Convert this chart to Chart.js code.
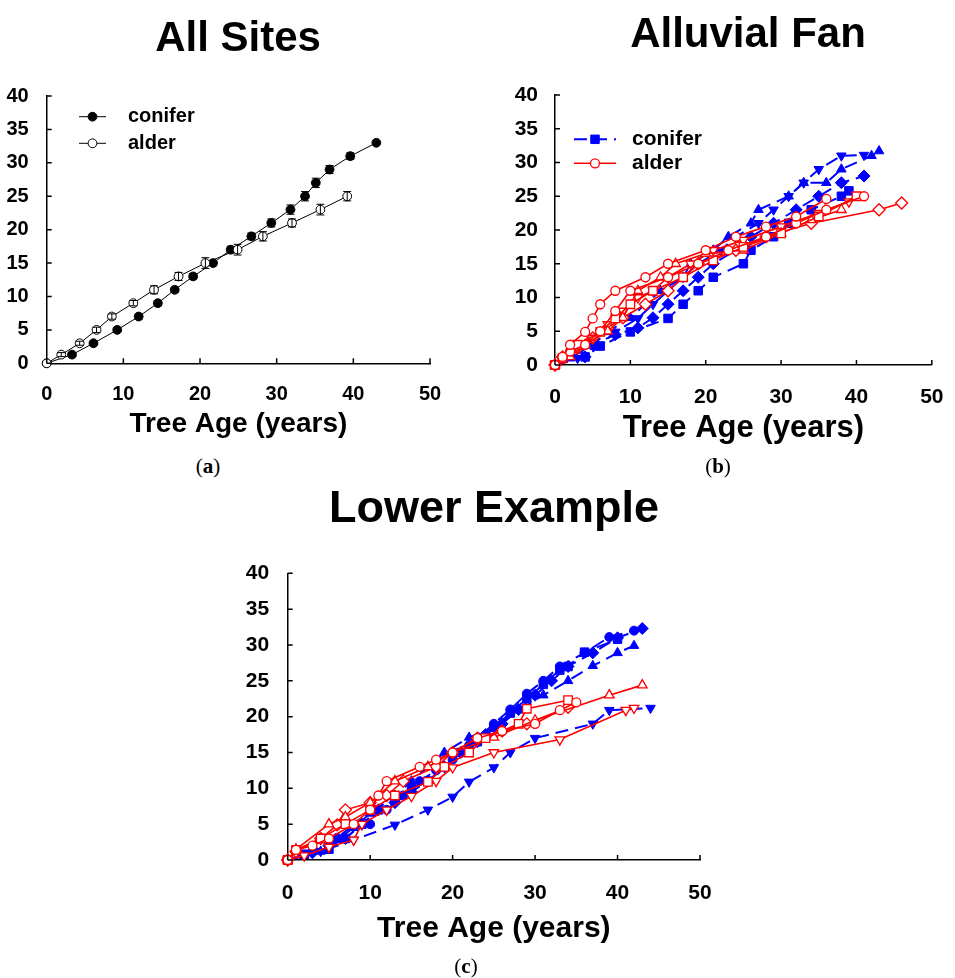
<!DOCTYPE html>
<html>
<head>
<meta charset="utf-8">
<script src="https://cdn.jsdelivr.net/npm/chart.js@4.4.1/dist/chart.umd.min.js"></script>
<style>
  body { margin: 0; background: #fff; width: 955px; height: 978px; position: relative; overflow: hidden;
         font-family: "Liberation Sans", Arial, sans-serif; }
  canvas { position: absolute; }
  .title { position: absolute; font-weight: bold; color: #000; white-space: nowrap; transform: translate(-50%, -50%); z-index: 2; }
  .tag { position: absolute; font-family: "Liberation Serif", "Times New Roman", serif; font-size: 21px;
         transform: translate(-50%, -50%); z-index: 2; }
</style>
</head>
<body>
<div class="title" style="left:238px; top:37px; font-size:42px;">All Sites</div>
<div class="title" style="left:748px; top:33px; font-size:42px;">Alluvial Fan</div>
<div class="title" style="left:494px; top:507px; font-size:45px;">Lower Example</div>
<div class="tag" style="left:208px; top:466px;">(<b>a</b>)</div>
<div class="tag" style="left:718px; top:466px;">(<b>b</b>)</div>
<div class="tag" style="left:466px; top:966px;">(<b>c</b>)</div>

<canvas id="chart-a" width="460" height="450" style="left:0; top:0;"></canvas>
<canvas id="chart-b" width="460" height="455" style="left:495px; top:0;"></canvas>
<canvas id="chart-c" width="500" height="480" style="left:230px; top:480px;"></canvas>

<script>
// ---- tick labels (shared) ----
const xTicks = [0, 10, 20, 30, 40, 50];
const yTicks = [0, 5, 10, 15, 20, 25, 30, 35, 40];

// ---- (a) All Sites: mean height with error bars ----
const allConiferAge = [0, 3.3, 6.1, 9.2, 12, 14.5, 16.7, 19.1, 21.7, 24, 26.7, 29.3, 31.8, 33.7, 35.1, 36.9, 39.6, 43];
const allConiferHt  = [0, 1.3, 3, 5, 7, 9, 11, 13, 15, 17, 19, 21, 23, 25, 27, 29, 31, 33];
const allConiferErr = [0, 0.3, 0.3, 0.3, 0.4, 0.4, 0.4, 0.4, 0.4, 0.5, 0.5, 0.6, 0.7, 0.7, 0.7, 0.6, 0.5, 0];
const allAlderAge = [0, 1.9, 4.3, 6.5, 8.5, 11.3, 14, 17.2, 20.7, 24.9, 28.2, 32, 35.7, 39.2];
const allAlderHt  = [0, 1.3, 3, 5, 7, 9, 11, 13, 15, 17, 19, 21, 23, 25];
const allAlderErr = [0, 0.3, 0.3, 0.4, 0.4, 0.4, 0.6, 0.6, 0.8, 0.8, 0.7, 0.6, 0.8, 0.7];

// ---- (b) Alluvial Fan ----
const fanConSqAge = [0, 4, 6, 10, 15, 17, 19, 21, 25, 26, 29, 31, 34, 38, 39];
const fanConSqHt  = [0, 1.2, 2.8, 4.9, 6.9, 9, 11, 13, 15, 17, 19, 21, 23, 25, 25.8];
const fanConDiAge = [0, 4, 5, 8, 11, 13, 15, 17, 19, 21, 24, 26, 29, 32, 35, 38, 41];
const fanConDiHt  = [0, 1.2, 3, 4.5, 5.5, 7, 9, 11, 13, 15, 17, 19, 21, 23, 25, 27, 28];
const fanConUpAge = [0, 2, 5, 7, 10, 12, 14, 17, 18, 21, 23, 26, 27, 31, 33, 36, 38, 42, 43];
const fanConUpHt  = [0, 1, 3, 4.9, 7, 9, 11, 13, 15, 17, 19, 21, 23, 25, 27, 27, 29, 31, 31.7];
const fanConDnAge = [0, 3, 6, 8, 11, 13, 15, 17, 19, 22, 24, 27, 29, 31, 33, 35, 38, 41];
const fanConDnHt  = [0, 1, 3, 4.9, 6.9, 9, 11, 13, 15, 17, 19, 21, 23, 25, 27, 29, 31, 31.1];

const fanAldCi1Age = [0, 1, 2, 4, 5, 6, 8, 12, 15, 20, 24, 28, 32, 36];
const fanAldCi1Ht  = [0, 1.2, 3, 4.9, 6.9, 9, 11, 13, 15, 17, 19, 20.5, 22, 24.6];
const fanAldCi2Age = [0, 1, 2, 4, 6, 8, 10, 15, 19, 23, 28, 32, 36, 41];
const fanAldCi2Ht  = [0, 1, 2, 3, 5, 8, 11, 13, 15, 17, 19, 21, 23, 25];
const fanAldSqAge  = [0, 1, 3, 6, 8, 10, 13, 17, 21, 25, 30, 35, 40];
const fanAldSqHt   = [0, 1, 3, 4.9, 6.9, 9, 11, 13, 15.5, 17.5, 19.5, 22, 25];
const fanAldUpAge  = [0, 2, 4, 7, 9, 11, 14, 16, 20, 25, 30, 34, 38];
const fanAldUpHt   = [0, 1.2, 3, 5, 7, 11, 13, 15, 16.5, 17, 19.5, 21.5, 23];
const fanAldDnAge  = [0, 1, 3, 5, 7, 9, 11, 13, 15, 18, 21, 25, 30, 35, 39];
const fanAldDnHt   = [0, 1, 2.5, 4, 6, 8, 10, 11, 13, 15, 17, 18.5, 20.5, 22.5, 24.2];
const fanAldDiAge  = [0, 1, 3, 5, 7, 9, 12, 15, 19, 24, 28, 34, 43, 46];
const fanAldDiHt   = [0, 1.2, 2.5, 4, 5.5, 7, 9, 11, 15, 17, 19, 21, 23, 24];

// ---- (c) Lower Example ----
const lowConCiAge = [0, 3, 6, 8, 10, 11, 12, 14, 16, 18, 20, 22, 23, 25, 27, 29, 31, 33, 36, 39, 42];
const lowConCiHt  = [0, 1.2, 3.1, 4.9, 5, 7, 7, 9, 11, 12.5, 14, 16, 17, 19, 21, 23.2, 25, 27, 28.9, 31.1, 32];
const lowConDiAge = [0, 3, 5, 7, 9, 11, 13, 15, 17, 19, 21, 23, 24, 26, 28, 30, 32, 34, 37, 40, 43];
const lowConDiHt  = [0, 1, 2, 3, 5, 7, 8, 9.5, 11, 13, 15, 16.5, 17.5, 19, 21, 23, 25, 27, 28.9, 31, 32.3];
const lowConSqAge = [0, 2, 5, 7, 9, 11, 13, 15, 17, 19, 21, 23, 25, 27, 29, 31, 33, 34, 36, 40];
const lowConSqHt  = [0, 0.8, 1.5, 3, 5, 7, 8.5, 10, 11, 13, 15, 16.5, 18.5, 20.5, 22.5, 24.5, 26.5, 27, 29, 30.8];
const lowConUpAge = [0, 2, 4, 6, 8, 10, 13, 15, 17, 19, 22, 25, 28, 31, 34, 37, 40, 42];
const lowConUpHt  = [0, 0.6, 1.2, 2.8, 4.5, 6.5, 9, 11, 13, 15, 17.1, 18.5, 20.9, 23, 25, 27.1, 28.9, 29.9];
const lowConDnAge = [0, 4, 8, 13, 17, 20, 22, 25, 27, 30, 37, 39, 44];
const lowConDnHt  = [0, 1.2, 2.8, 4.9, 7, 8.8, 10.9, 12.9, 15, 17, 19, 20.9, 21.2];

const lowAldCiAge = [0, 1, 3, 5, 8, 10, 11, 12, 16, 18, 20, 23, 26, 30, 33, 35];
const lowAldCiHt  = [0, 1.4, 2, 3, 5, 7, 9, 11, 13, 14, 15, 17, 18, 19, 20.9, 22];
const lowAldSqAge = [0, 1, 4, 7, 10, 13, 17, 19, 22, 24, 28, 29, 34];
const lowAldSqHt  = [0, 1.4, 3, 5, 7, 9, 10.9, 13, 15, 17, 19, 21.1, 22.3];
const lowAldUpAge = [0, 1, 5, 7, 10, 13, 17, 20, 25, 30, 39, 43];
const lowAldUpHt  = [0, 1.5, 5, 6, 8, 11, 13, 15, 17.1, 19.5, 23, 24.4];
const lowAldDnAge = [0, 2, 5, 8, 9, 12, 15, 18, 20, 25, 33, 41, 42];
const lowAldDnHt  = [0, 0.6, 1.8, 2.8, 5, 7, 8.9, 11, 12.9, 15, 16.8, 20.9, 21.2];
const lowAldDiAge = [0, 1, 4, 6, 7, 10, 12, 14, 18, 20, 23, 26, 29, 34];
const lowAldDiHt  = [0, 1.2, 3, 4.9, 7, 8, 9, 11, 13, 15, 17, 18, 19, 21.3];

const FONT = "'Liberation Sans', Arial, sans-serif";
const BLUE = '#0000ff';
const RED = '#ff0000';

function pts(xs, ys) {
    return xs.map((x, i) => ({ x: x, y: ys[i] }));
}

// marker size per shape so the shapes look equally big
const markerRadius = { circle: 4.5, rect: 6, triangle: 5.5, rectRot: 6 };

function conifer(xs, ys, style, rotation) {
    return {
        data: pts(xs, ys),
        borderColor: BLUE, borderWidth: 2, borderDash: [13, 7],
        pointStyle: style, pointRotation: rotation || 0, pointRadius: markerRadius[style],
        pointBackgroundColor: BLUE, pointBorderColor: BLUE, pointBorderWidth: 1,
        tension: 0, clip: false
    };
}

function alder(xs, ys, style, rotation) {
    return {
        data: pts(xs, ys),
        borderColor: RED, borderWidth: 1.6,
        pointStyle: style, pointRotation: rotation || 0, pointRadius: markerRadius[style],
        pointBackgroundColor: '#fff', pointBorderColor: RED, pointBorderWidth: 1.3,
        tension: 0, clip: false
    };
}

// Ticks point into the plot, like the original figure
const inwardTicks = {
    id: 'inwardTicks',
    afterDraw(chart) {
        const { ctx, chartArea, scales } = chart;
        ctx.save();
        ctx.strokeStyle = '#000';
        ctx.lineWidth = 1.5;
        ctx.beginPath();
        scales.x.ticks.forEach(t => {
            const px = scales.x.getPixelForValue(t.value);
            ctx.moveTo(px, chartArea.bottom);
            ctx.lineTo(px, chartArea.bottom - 5);
        });
        scales.y.ticks.forEach(t => {
            const py = scales.y.getPixelForValue(t.value);
            ctx.moveTo(chartArea.left, py);
            ctx.lineTo(chartArea.left + 5, py);
        });
        ctx.stroke();
        ctx.restore();
    }
};

// Vertical error bars for datasets that carry an "errors" array
const errorBars = {
    id: 'errorBars',
    afterDatasetsDraw(chart) {
        const { ctx, scales } = chart;
        ctx.save();
        ctx.strokeStyle = '#000';
        ctx.lineWidth = 1;
        chart.data.datasets.forEach(ds => {
            if (!ds.errors) return;
            ds.data.forEach((p, i) => {
                const e = ds.errors[i];
                if (!e) return;
                const x = scales.x.getPixelForValue(p.x);
                const y0 = scales.y.getPixelForValue(p.y - e);
                const y1 = scales.y.getPixelForValue(p.y + e);
                ctx.beginPath();
                ctx.moveTo(x, y0); ctx.lineTo(x, y1);
                ctx.moveTo(x - 4, y0); ctx.lineTo(x + 4, y0);
                ctx.moveTo(x - 4, y1); ctx.lineTo(x + 4, y1);
                ctx.stroke();
            });
        });
        ctx.restore();
    }
};

// Legend drawn as line + marker + label, taken from the dataset styles
const seriesKey = {
    id: 'seriesKey',
    afterDraw(chart, args, opts) {
        if (!opts.items) return;
        const ctx = chart.ctx;
        ctx.save();
        opts.items.forEach(item => {
            const ds = chart.data.datasets[item.dataset];
            ctx.strokeStyle = ds.borderColor;
            ctx.lineWidth = ds.borderWidth;
            ctx.setLineDash(ds.borderDash || []);
            ctx.beginPath();
            ctx.moveTo(opts.x0, item.y);
            ctx.lineTo(opts.x1, item.y);
            ctx.stroke();
            ctx.setLineDash([]);
            ctx.fillStyle = ds.pointBackgroundColor;
            ctx.strokeStyle = ds.pointBorderColor;
            ctx.lineWidth = ds.pointBorderWidth;
            Chart.helpers.drawPoint(ctx, {
                pointStyle: ds.pointStyle, rotation: 0,
                radius: ds.pointRadius, borderWidth: ds.pointBorderWidth
            }, (opts.x0 + opts.x1) / 2, item.y);
            ctx.fillStyle = '#000';
            ctx.font = 'bold ' + opts.fontSize + 'px ' + FONT;
            ctx.textBaseline = 'middle';
            ctx.textAlign = 'left';
            ctx.fillText(item.label, opts.textX, item.y);
        });
        ctx.restore();
    }
};

// cfg: fixed layout numbers for one panel
function makeChart(id, datasets, cfg, legendOpts) {
    const ctx = document.getElementById(id).getContext('2d');
    return new Chart(ctx, {
        type: 'line',
        data: { datasets: datasets },
        plugins: [inwardTicks, errorBars, seriesKey],
        options: {
            responsive: false,
            animation: false,
            layout: { padding: { top: cfg.top, right: cfg.right, left: 0, bottom: 0 } },
            plugins: {
                legend: { display: false },
                tooltip: { enabled: false },
                seriesKey: legendOpts || {}
            },
            scales: {
                x: {
                    type: 'linear', min: 0, max: 50,
                    afterBuildTicks: s => { s.ticks = xTicks.map(v => ({ value: v })); },
                    afterFit: s => { s.height = cfg.xHeight; },
                    grid: { display: false },
                    border: { display: true, color: '#000', width: 1.5 },
                    ticks: { color: '#000', padding: cfg.tickPad, font: { family: FONT, size: cfg.tickSize, weight: 'bold' } },
                    title: {
                        display: true, text: 'Tree Age (years)', color: '#000',
                        padding: { top: 0, bottom: cfg.titlePad },
                        font: { family: FONT, size: cfg.titleSize, weight: 'bold' }
                    }
                },
                y: {
                    type: 'linear', min: 0, max: 40,
                    afterBuildTicks: s => { s.ticks = yTicks.map(v => ({ value: v })); },
                    afterFit: s => { s.width = cfg.yWidth; },
                    grid: { display: false },
                    border: { display: true, color: '#000', width: 1.5 },
                    ticks: { color: '#000', padding: cfg.yPad, font: { family: FONT, size: cfg.tickSize, weight: 'bold' } }
                }
            }
        }
    });
}

// (a)
const aConifer = {
    data: pts(allConiferAge, allConiferHt), errors: allConiferErr,
    borderColor: '#000', borderWidth: 1,
    pointStyle: 'circle', pointRadius: 4.4,
    pointBackgroundColor: '#000', pointBorderColor: '#000', pointBorderWidth: 1,
    tension: 0, clip: false
};
const aAlder = {
    data: pts(allAlderAge, allAlderHt), errors: allAlderErr,
    borderColor: '#000', borderWidth: 1,
    pointStyle: 'circle', pointRadius: 4.4,
    pointBackgroundColor: '#fff', pointBorderColor: '#000', pointBorderWidth: 1,
    tension: 0, clip: false
};
makeChart('chart-a', [aAlder, aConifer],
    { top: 96, right: 30, xHeight: 86.7, yWidth: 46.7, tickPad: 11, yPad: 10, tickSize: 20, titleSize: 28, titlePad: 9 },
    { x0: 79, x1: 106, textX: 128, fontSize: 20,
      items: [{ dataset: 1, y: 116.7, label: 'conifer' }, { dataset: 0, y: 143.3, label: 'alder' }] });

// (b)
makeChart('chart-b', [
    alder(fanAldCi1Age, fanAldCi1Ht, 'circle'),
    alder(fanAldCi2Age, fanAldCi2Ht, 'circle'),
    alder(fanAldSqAge, fanAldSqHt, 'rect'),
    alder(fanAldUpAge, fanAldUpHt, 'triangle'),
    alder(fanAldDnAge, fanAldDnHt, 'triangle', 180),
    alder(fanAldDiAge, fanAldDiHt, 'rectRot'),
    conifer(fanConSqAge, fanConSqHt, 'rect'),
    conifer(fanConDiAge, fanConDiHt, 'rectRot'),
    conifer(fanConUpAge, fanConUpHt, 'triangle'),
    conifer(fanConDnAge, fanConDnHt, 'triangle', 180)
], { top: 95, right: 14.3, xHeight: 90, yWidth: 60, tickPad: 11.5, yPad: 9, tickSize: 21, titleSize: 31, titlePad: 8 },
   { x0: 79, x1: 121, textX: 137, fontSize: 21,
     items: [{ dataset: 6, y: 139.3, label: 'conifer' }, { dataset: 0, y: 163.3, label: 'alder' }] });

// (c)
makeChart('chart-c', [
    alder(lowAldCiAge, lowAldCiHt, 'circle'),
    alder(lowAldSqAge, lowAldSqHt, 'rect'),
    alder(lowAldUpAge, lowAldUpHt, 'triangle'),
    alder(lowAldDnAge, lowAldDnHt, 'triangle', 180),
    alder(lowAldDiAge, lowAldDiHt, 'rectRot'),
    conifer(lowConCiAge, lowConCiHt, 'circle'),
    conifer(lowConDiAge, lowConDiHt, 'rectRot'),
    conifer(lowConSqAge, lowConSqHt, 'rect'),
    conifer(lowConUpAge, lowConUpHt, 'triangle'),
    conifer(lowConDnAge, lowConDnHt, 'triangle', 180)
], { top: 93.3, right: 30, xHeight: 100, yWidth: 57.7, tickPad: 12.4, yPad: 10.5, tickSize: 21, titleSize: 30, titlePad: 13.7 });
</script>
</body>
</html>
